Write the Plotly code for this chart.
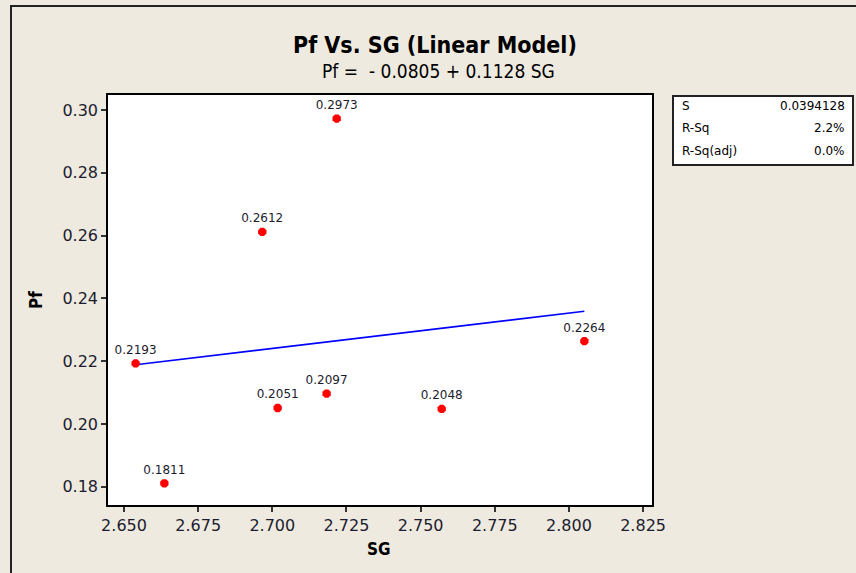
import plotly.graph_objects as go

# Specific gravity vs. Pf measurements
sg = [2.7217, 2.6966, 2.6539, 2.7018, 2.7183, 2.7571, 2.8052, 2.6636]
pf = [0.2973, 0.2612, 0.2193, 0.2051, 0.2097, 0.2048, 0.2264, 0.1811]

# Fitted linear model
intercept = -0.0805
slope = 0.1128
stat_names = ["S", "R-Sq", "R-Sq(adj)"]
stat_values = ["0.0394128", "2.2%", "0.0%"]

x_ticks = [2.650, 2.675, 2.700, 2.725, 2.750, 2.775, 2.800, 2.825]
y_ticks = [0.18, 0.20, 0.22, 0.24, 0.26, 0.28, 0.30]

W, H = 856, 573
L, R, T, B = 108, 652, 95, 505  # plot area in pixels

def px(x):
    return (x - L) / (R - L)

def py(y):
    return (B - y) / (B - T)

BG = "#EEEAE0"
COND = "DejaVu Sans Condensed, DejaVu Sans, sans-serif"
REG = "DejaVu Sans, sans-serif"
INK = "#1c1c2e"

fig = go.Figure()

x_fit = [min(sg), max(sg)]
y_fit = [intercept + slope * v for v in x_fit]
fig.add_trace(go.Scatter(
    x=x_fit, y=y_fit, mode="lines",
    line=dict(color="#0000FF", width=1.6),
    hoverinfo="skip", showlegend=False,
))

fig.add_trace(go.Scatter(
    x=sg, y=pf, mode="markers+text",
    marker=dict(color="#FF0000", size=9, symbol="octagon"),
    text=[f"{v:.4f}" for v in pf],
    textposition="top center",
    textfont=dict(family=REG, size=12, color=INK),
    cliponaxis=False, showlegend=False,
))

axis_style = dict(
    showgrid=False, zeroline=False,
    showline=True, linecolor="black", linewidth=1.5, mirror=True,
    ticks="outside", ticklen=5, tickcolor="#333333", tickwidth=1.5,
    tickfont=dict(family=REG, size=16, color=INK),
)
fig.update_xaxes(range=[2.6446, 2.8280], tickvals=x_ticks,
                 ticktext=[f"{v:.3f}" for v in x_ticks], **axis_style)
fig.update_yaxes(range=[0.1742, 0.3048], tickvals=y_ticks,
                 ticktext=[f"{v:.2f}" for v in y_ticks], **axis_style)

annotations = [
    dict(x=px(435), y=py(45), text="<b>Pf Vs. SG (Linear Model)</b>",
         font=dict(family=COND, size=23, color="black")),
    dict(x=px(438), y=py(71), text="Pf =  - 0.0805 + 0.1128 SG",
         font=dict(family=COND, size=19, color="black")),
    dict(x=px(36), y=py(300), text="<b>Pf</b>", textangle=-90,
         font=dict(family=COND, size=17, color="black")),
    dict(x=px(379), y=py(549), text="<b>SG</b>",
         font=dict(family=COND, size=17, color="black")),
]
row_y = [106, 128, 151]
for name, val, yy in zip(stat_names, stat_values, row_y):
    annotations.append(dict(x=px(680), y=py(yy), text=name, xanchor="left",
                            font=dict(family=REG, size=12, color="black")))
    annotations.append(dict(x=px(847), y=py(yy), text=val, xanchor="right",
                            font=dict(family=REG, size=12, color="black")))
for a in annotations:
    a.update(xref="paper", yref="paper", showarrow=False)
    a.setdefault("xanchor", "center")
    a.setdefault("yanchor", "middle")

shapes = [
    # outer frame
    dict(type="rect", x0=px(11), x1=px(900), y0=py(6), y1=py(620),
         line=dict(color="#222222", width=2)),
    # statistics box
    dict(type="rect", x0=px(673), x1=px(853), y0=py(96), y1=py(165),
         line=dict(color="#222222", width=2), fillcolor="white"),
]
for s in shapes:
    s.update(xref="paper", yref="paper", layer="below")

fig.update_layout(
    width=W, height=H,
    margin=dict(l=L, r=W - R, t=T, b=H - B),
    paper_bgcolor=BG, plot_bgcolor="white",
    annotations=annotations, shapes=shapes,
    showlegend=False,
)

fig.write_html("out.html")
